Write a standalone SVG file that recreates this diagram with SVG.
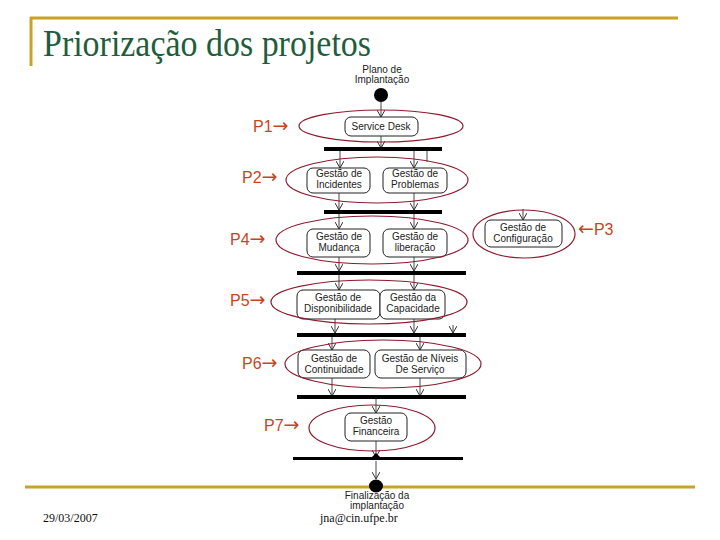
<svg xmlns="http://www.w3.org/2000/svg" width="720" height="540" viewBox="0 0 720 540">
<style>
.gold{stroke:#C9A227;stroke-width:3;fill:none}
.title{font-family:"Liberation Serif","DejaVu Serif",serif;font-size:37px;fill:#1E5E3C}
.foot{font-family:"Liberation Serif","DejaVu Serif",serif;font-size:12px;fill:#111}
.lbl{font-family:"Liberation Sans","DejaVu Sans",sans-serif;font-size:10px;fill:#222;text-anchor:middle}
.box{fill:#fff;stroke:#222;stroke-width:1}
.ell{fill:none;stroke:#8E1B2E;stroke-width:1.2}
.p{font-family:"Liberation Sans","DejaVu Sans",sans-serif;font-size:16px;fill:#C8451B}
.ar{font-family:"DejaVu Sans",sans-serif;font-size:19px}
.bar{fill:#000}
.ln{stroke:#333;stroke-width:0.9;fill:none;marker-end:url(#v)}
.ln0{stroke:#333;stroke-width:0.9;fill:none}
</style>
<defs>
<marker id="v" markerUnits="userSpaceOnUse" viewBox="0 0 7 8" markerWidth="7" markerHeight="8" refX="7" refY="4" orient="auto">
<path d="M0,0 L7,4 L0,8" fill="none" stroke="#333" stroke-width="1"/>
</marker>
</defs>
<rect width="720" height="540" fill="#fff"/>
<g id="frame">
<line class="gold" x1="30" y1="18" x2="678" y2="18"/>
<line class="gold" x1="31" y1="17" x2="31" y2="66"/>
<line class="gold" x1="25" y1="487" x2="695" y2="487"/>
<text class="title" x="43" y="56" textLength="328" lengthAdjust="spacingAndGlyphs">Priorização dos projetos</text>
<text class="foot" x="43" y="522">29/03/2007</text>
<text class="foot" x="320" y="522">jna@cin.ufpe.br</text>
</g>
<g id="connectors">
<line class="ln" x1="381" y1="102" x2="381" y2="117"/>
<line class="ln" x1="381" y1="136" x2="381" y2="148"/>
<line class="ln" x1="340" y1="151" x2="340" y2="168"/>
<line class="ln" x1="414" y1="151" x2="414" y2="168"/>
<line class="ln0" x1="427" y1="149" x2="427" y2="162"/>
<line class="ln" x1="339" y1="193" x2="339" y2="210"/>
<line class="ln" x1="414" y1="193" x2="414" y2="210"/>
<line class="ln" x1="339" y1="213" x2="339" y2="229"/>
<line class="ln" x1="414" y1="213" x2="414" y2="229"/>
<line class="ln" x1="523" y1="209" x2="523" y2="220"/>
<line class="ln" x1="339" y1="257" x2="339" y2="271"/>
<line class="ln" x1="414" y1="257" x2="414" y2="271"/>
<line class="ln" x1="339" y1="274" x2="339" y2="290"/>
<line class="ln" x1="414" y1="274" x2="414" y2="290"/>
<line class="ln" x1="335" y1="319" x2="335" y2="333"/>
<line class="ln" x1="414" y1="319" x2="414" y2="333"/>
<line class="ln" x1="453" y1="325" x2="453" y2="333"/>
<line class="ln" x1="332" y1="336" x2="332" y2="350"/>
<line class="ln" x1="420" y1="336" x2="420" y2="350"/>
<line class="ln" x1="332" y1="378" x2="332" y2="396"/>
<line class="ln" x1="420" y1="378" x2="420" y2="396"/>
<line class="ln" x1="376" y1="399" x2="376" y2="413"/>
<line class="ln" x1="376" y1="441" x2="376" y2="457"/>
<line class="ln" x1="376" y1="461" x2="376" y2="479"/>
</g>
<g id="bars">
<rect class="bar" x="324" y="147" width="118" height="4"/>
<rect class="bar" x="324" y="210" width="118" height="4"/>
<rect class="bar" x="297" y="271" width="169" height="4"/>
<rect class="bar" x="297" y="333" width="169" height="4"/>
<rect class="bar" x="297" y="395" width="169" height="4"/>
<rect class="bar" x="293" y="457" width="170" height="3"/>
<polygon class="bar" points="372,457 376,453 380,457"/>
</g>
<g id="start">
<text class="lbl" x="382" y="73">Plano de</text>
<text class="lbl" x="382" y="83">Implantação</text>
<circle cx="381" cy="95" r="7" fill="#000"/>
</g>
<g id="p1">
<rect class="box" x="345" y="117" width="73" height="19" rx="6"/>
<text class="lbl" x="381" y="130">Service Desk</text>
<ellipse class="ell" cx="381" cy="126" rx="82" ry="16"/>
<text class="p" x="253" y="132">P1<tspan class="ar">→</tspan></text>
</g>
<g id="p2">
<rect class="box" x="307" y="168" width="63" height="25" rx="6"/>
<text class="lbl" x="339" y="177">Gestão de</text>
<text class="lbl" x="339" y="188">Incidentes</text>
<rect class="box" x="383" y="168" width="64" height="25" rx="6"/>
<text class="lbl" x="415" y="177">Gestão de</text>
<text class="lbl" x="415" y="188">Problemas</text>
<ellipse class="ell" cx="377" cy="180" rx="91" ry="23"/>
<text class="p" x="242" y="183">P2<tspan class="ar">→</tspan></text>
</g>
<g id="p4">
<rect class="box" x="307" y="229" width="63" height="28" rx="6"/>
<text class="lbl" x="339" y="240">Gestão de</text>
<text class="lbl" x="339" y="251">Mudança</text>
<rect class="box" x="383" y="229" width="64" height="28" rx="6"/>
<text class="lbl" x="415" y="240">Gestão de</text>
<text class="lbl" x="415" y="251">liberação</text>
<ellipse class="ell" cx="372" cy="240" rx="96" ry="24"/>
<text class="p" x="230" y="245">P4<tspan class="ar">→</tspan></text>
</g>
<g id="p3">
<rect class="box" x="485" y="220" width="77" height="27" rx="6"/>
<text class="lbl" x="523" y="231">Gestão de</text>
<text class="lbl" x="523" y="242">Configuração</text>
<ellipse class="ell" cx="524" cy="234" rx="51" ry="24"/>
<text class="p" x="578" y="235"><tspan class="ar">←</tspan>P3</text>
</g>
<g id="p5">
<rect class="box" x="297" y="290" width="83" height="29" rx="6"/>
<text class="lbl" x="338" y="301">Gestão de</text>
<text class="lbl" x="338" y="312">Disponibilidade</text>
<rect class="box" x="380" y="290" width="65" height="29" rx="6"/>
<text class="lbl" x="413" y="301">Gestão da</text>
<text class="lbl" x="413" y="312">Capacidade</text>
<ellipse class="ell" cx="369" cy="302" rx="98" ry="22"/>
<text class="p" x="230" y="306">P5<tspan class="ar">→</tspan></text>
</g>
<g id="p6">
<rect class="box" x="298" y="350" width="72" height="28" rx="6"/>
<text class="lbl" x="334" y="362">Gestão de</text>
<text class="lbl" x="334" y="373">Continuidade</text>
<rect class="box" x="375" y="350" width="91" height="28" rx="6"/>
<text class="lbl" x="420" y="362">Gestão de Níveis</text>
<text class="lbl" x="420" y="373">De Serviço</text>
<ellipse class="ell" cx="383" cy="364" rx="98" ry="24"/>
<text class="p" x="242" y="369">P6<tspan class="ar">→</tspan></text>
</g>
<g id="p7">
<rect class="box" x="345" y="413" width="62" height="28" rx="6"/>
<text class="lbl" x="376" y="424">Gestão</text>
<text class="lbl" x="376" y="435">Financeira</text>
<ellipse class="ell" cx="372" cy="428" rx="63" ry="23"/>
<text class="p" x="264" y="431">P7<tspan class="ar">→</tspan></text>
</g>
<g id="end">
<ellipse cx="376" cy="486" rx="7" ry="6.5" fill="#000"/>
<text class="lbl" x="377" y="499">Finalização da</text>
<text class="lbl" x="377" y="509">implantação</text>
</g>
</svg>
